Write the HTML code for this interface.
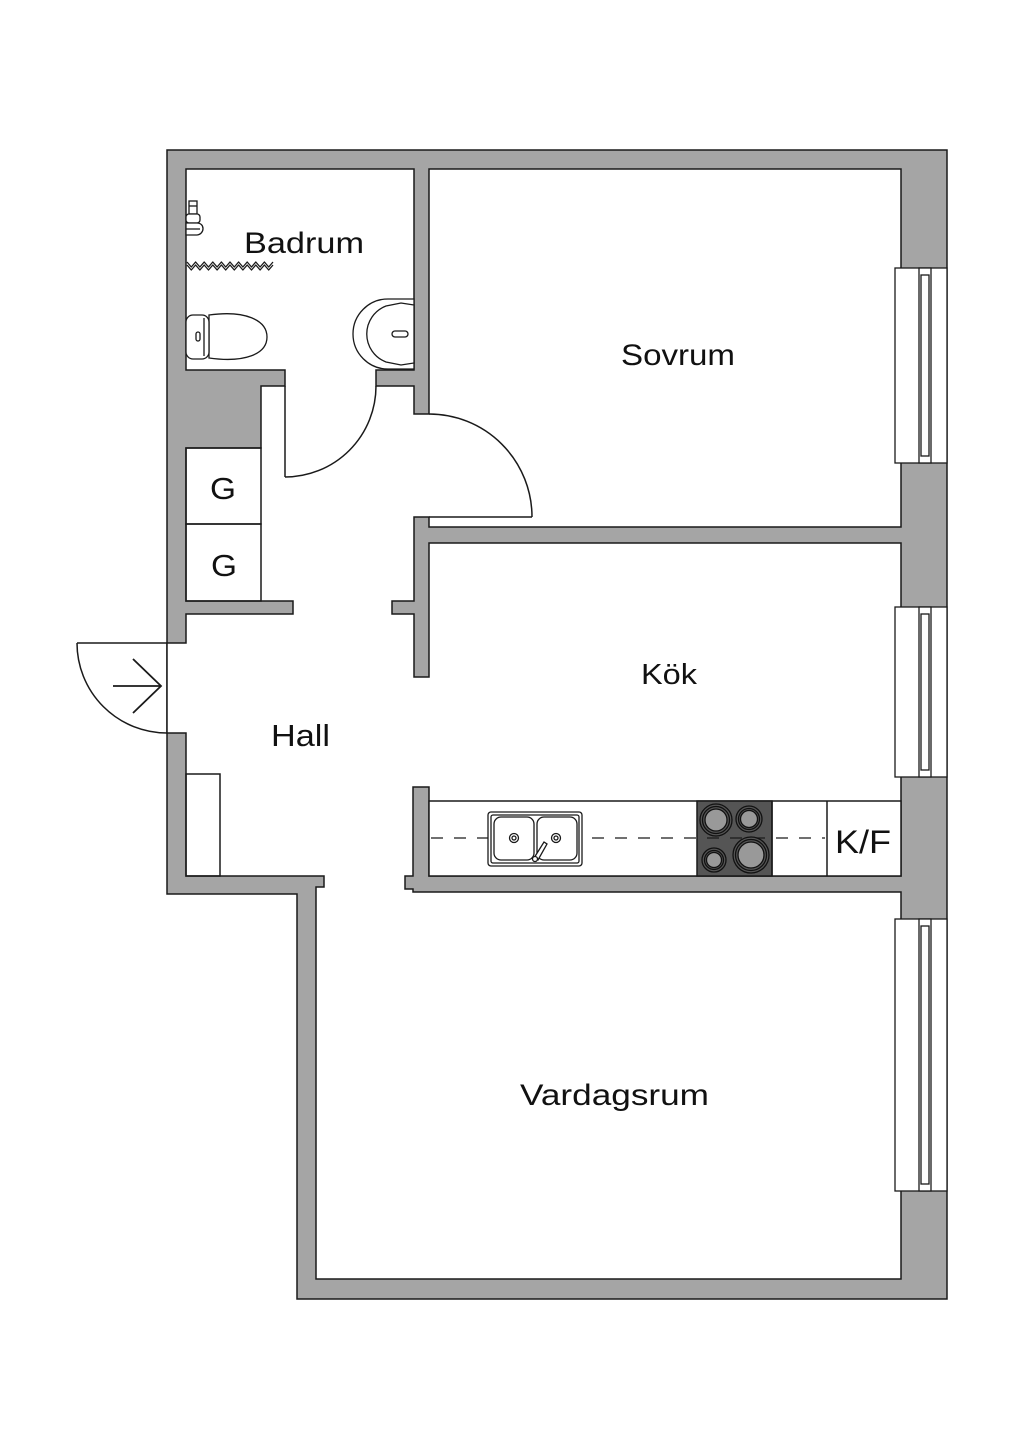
<!DOCTYPE html>
<html>
<head>
<meta charset="utf-8">
<style>
  html,body{margin:0;padding:0;background:#fff;}
  svg{display:block;}
  text{font-family:"Liberation Sans", sans-serif; fill:#111;}
</style>
</head>
<body>
<svg width="1024" height="1448" viewBox="0 0 1024 1448" xmlns="http://www.w3.org/2000/svg">
  <rect x="0" y="0" width="1024" height="1448" fill="#fff"/>

  <!-- Outer wall mass -->
  <polygon points="167,150 947,150 947,1299 297,1299 297,894 167,894"
           fill="#a5a5a5" stroke="#1a1a1a" stroke-width="1.5" stroke-linejoin="miter"/>

  <!-- Floor (all rooms joined through openings) -->
  <polygon fill="#fff" stroke="#1a1a1a" stroke-width="1.5" stroke-linejoin="miter"
    points="186,169 414,169 414,370 376,370 376,386 414,386 414,414 429,414 429,169 901,169 901,527 429,527 429,517 414,517 414,601 392,601 392,614 414,614 414,677 429,677 429,543 901,543 901,876 429,876 429,787 413,787 413,876 405,876 405,889 413,889 413,892 901,892 901,1279 316,1279 316,887 324,887 324,876 186,876 186,733 167,733 167,643 186,643 186,614 293,614 293,601 186,601 186,448 261,448 261,386 285,386 285,370 186,370"/>

  <!-- Windows -->
  <g fill="#fff" stroke="#1a1a1a" stroke-width="1.3">
    <rect x="895" y="268" width="52" height="195"/>
    <rect x="919" y="268" width="12" height="195"/>
    <rect x="921" y="275" width="8" height="181"/>

    <rect x="895" y="607" width="52" height="170"/>
    <rect x="919" y="607" width="12" height="170"/>
    <rect x="921" y="614" width="8" height="156"/>

    <rect x="895" y="919" width="52" height="272"/>
    <rect x="919" y="919" width="12" height="272"/>
    <rect x="921" y="926" width="8" height="258"/>
  </g>

  <!-- Closets G -->
  <g fill="none" stroke="#1a1a1a" stroke-width="1.5">
    <rect x="186" y="448" width="75" height="76"/>
    <rect x="186" y="524" width="75" height="77"/>
    <rect x="186" y="774" width="34" height="102"/>
  </g>

  <!-- Doors -->
  <g fill="none" stroke="#1a1a1a" stroke-width="1.5">
    <line x1="285" y1="386" x2="285" y2="477"/>
    <path d="M285,477 A91,91 0 0 0 376,386"/>
    <line x1="429" y1="517" x2="532" y2="517"/>
    <path d="M532,517 A103,103 0 0 0 429,414"/>
    <line x1="77" y1="643" x2="167" y2="643"/>
    <path d="M77,643 A90,90 0 0 0 167,733"/>
    <line x1="113" y1="686" x2="161" y2="686" stroke-width="1.8"/>
    <polyline points="133,659 161,686 133,713" stroke-width="1.8"/>
  </g>

  <!-- Bathroom fixtures -->
  <g fill="#fff" stroke="#1a1a1a" stroke-width="1.3">
    <!-- shower head -->
    <rect x="189" y="201" width="8" height="13"/>
    <line x1="189" y1="206" x2="197" y2="206"/>
    <rect x="186" y="214" width="14" height="9" rx="3"/>
    <path d="M186,223 L197,223 C205,223 205,234 197,235 L186,235 Z"/>
    <line x1="186" y1="229" x2="200" y2="229"/>
    <!-- zigzag (shower curtain) -->
    <polyline fill="none" stroke-linejoin="round" points="187,262 191.3,267 195.6,262 199.9,267 204.2,262 208.5,267 212.8,262 217.1,267 221.4,262 225.7,267 230,262 234.3,267 238.6,262 242.9,267 247.2,262 251.5,267 255.8,262 260.1,267 264.4,262 268.7,267 273,262"/>
    <polyline fill="none" stroke-linejoin="round" points="187,265 191.3,270 195.6,265 199.9,270 204.2,265 208.5,270 212.8,265 217.1,270 221.4,265 225.7,270 230,265 234.3,270 238.6,265 242.9,270 247.2,265 251.5,270 255.8,265 260.1,270 264.4,265 268.7,270 273,265"/>
    <!-- toilet -->
    <path d="M209,315 C245,310 267,320 267,337 C267,354 245,363 209,358 Z"/>
    <rect x="186" y="315" width="23" height="44" rx="7"/>
    <line x1="204" y1="318" x2="204" y2="356"/>
    <rect x="196" y="332" width="4" height="9" rx="2"/>
    <!-- sink -->
    <path d="M414,299 L388,299 A35,35 0 0 0 388,369 L414,369 Z"/>
    <path d="M414,305 L401,303 L386,306 A30,30 0 0 0 386,362 L401,365 L414,363 Z"/>
    <rect x="392" y="331" width="16" height="6" rx="3"/>
  </g>

  <!-- Kitchen counter -->
  <g stroke="#1a1a1a" stroke-width="1.5">
    <rect x="429" y="801" width="472" height="75" fill="#fff"/>
    <rect x="697" y="801" width="75" height="75" fill="#555"/>
    <line x1="772" y1="801" x2="772" y2="876"/>
    <line x1="827" y1="801" x2="827" y2="876"/>
  </g>
  <line x1="431" y1="838" x2="825" y2="838" stroke="#1a1a1a" stroke-width="1.2" stroke-dasharray="12,11"/>

  <!-- Sink -->
  <g fill="#fff" stroke="#1a1a1a" stroke-width="1.3">
    <rect x="488" y="812" width="94" height="54" rx="3"/>
    <rect x="491" y="815" width="88" height="48" rx="2"/>
    <rect x="494" y="817" width="40" height="43" rx="7"/>
    <rect x="537" y="817" width="40" height="43" rx="7"/>
    <circle cx="514" cy="838" r="4.5"/>
    <circle cx="514" cy="838" r="2"/>
    <circle cx="556" cy="838" r="4.5"/>
    <circle cx="556" cy="838" r="2"/>
    <path d="M534,858 L544,842 L547,844 L538,860 Z"/>
    <circle cx="535" cy="859" r="2.5"/>
  </g>

  <!-- Hob burners -->
  <g stroke="#111" stroke-width="1.3">
    <circle cx="716" cy="820" r="16" fill="#555"/>
    <circle cx="716" cy="820" r="13.5" fill="none"/>
    <circle cx="716" cy="820" r="11" fill="#999"/>
    <circle cx="749" cy="819" r="13" fill="#555"/>
    <circle cx="749" cy="819" r="10.5" fill="none"/>
    <circle cx="749" cy="819" r="8.5" fill="#999"/>
    <circle cx="714" cy="860" r="12" fill="#555"/>
    <circle cx="714" cy="860" r="9.5" fill="none"/>
    <circle cx="714" cy="860" r="7.5" fill="#999"/>
    <circle cx="751" cy="855" r="18" fill="#555"/>
    <circle cx="751" cy="855" r="15.5" fill="none"/>
    <circle cx="751" cy="855" r="13" fill="#999"/>
  </g>

  <!-- Labels -->
  <text x="244" y="253" font-size="30" textLength="120" lengthAdjust="spacingAndGlyphs">Badrum</text>
  <text x="621" y="365" font-size="30" textLength="114" lengthAdjust="spacingAndGlyphs">Sovrum</text>
  <text x="641" y="684" font-size="29" textLength="56" lengthAdjust="spacingAndGlyphs">Kök</text>
  <text x="271" y="746" font-size="31" textLength="59" lengthAdjust="spacingAndGlyphs">Hall</text>
  <text x="520" y="1105" font-size="30" textLength="189" lengthAdjust="spacingAndGlyphs">Vardagsrum</text>
  <text x="210" y="499" font-size="31" textLength="26" lengthAdjust="spacingAndGlyphs">G</text>
  <text x="211" y="576" font-size="31" textLength="26" lengthAdjust="spacingAndGlyphs">G</text>
  <text x="835" y="853" font-size="32" textLength="56" lengthAdjust="spacingAndGlyphs">K/F</text>
</svg>
</body>
</html>
